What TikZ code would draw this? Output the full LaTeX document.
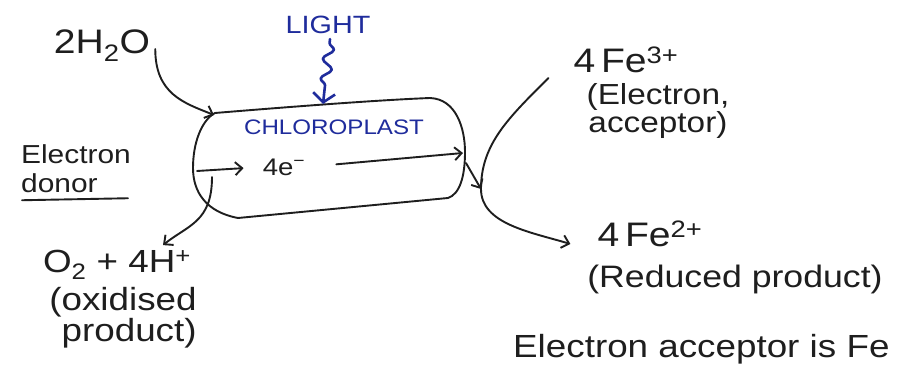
\documentclass[tikz,border=0pt]{standalone}
\usepackage{fontspec}
\setmainfont{Liberation Sans}[FakeStretch=1.15]
\usetikzlibrary{arrows.meta,decorations.pathmorphing}
\definecolor{ink}{HTML}{1E1E1E}
\definecolor{blueink}{HTML}{1F2C9C}
\tikzset{
  hand/.style={text=ink, inner sep=1pt},
  fs/.style={font=\fontsize{#1}{#1}\selectfont},
  pen/.style={draw=ink, line width=1.9pt, line cap=round, line join=round},
  arr/.style={pen, -{Straight Barb[length=7pt,width=13pt]}},
}
\begin{document}
\begin{tikzpicture}[x=1pt,y=-1pt]
\useasboundingbox[fill=white] (0,0) rectangle (898,371);

% labels
\node[hand,fs=34] (water) at (102,46) {2H\textsubscript{2}O};
\node[hand,fs=25,text=blueink] (light) at (328,25) {LIGHT};
\node[hand,fs=21,text=blueink] (chl) at (334,127) {CHLOROPLAST};
\node[hand,fs=24] (e4) at (284,167) {4e\textsuperscript{−}};
\node[hand,align=left,font=\fontsize{26}{29}\selectfont] (donor) at (76,169) {Electron\\donor};
\node[hand,fs=32] (o2) at (117,265) {O\textsubscript{2} + 4H\textsuperscript{+}};
\node[hand,align=right,font=\fontsize{32}{28}\selectfont] (oxp) at (123,318) {(oxidised\\product)};
\node[hand,fs=34] (fe3) at (626,60) {4\,Fe\textsuperscript{3+}};
\node[hand,align=center,font=\fontsize{29}{25}\selectfont] (acc) at (658,111) {(Electron,\\acceptor)};
\node[hand,fs=34] (fe2) at (650,234) {4\,Fe\textsuperscript{2+}};
\node[hand,fs=31] (red) at (735,279) {(Reduced product)};
\node[hand,fs=32,anchor=west] (note) at (512,349) {Electron acceptor is Fe};

% chloroplast outline
\draw[pen] (215,113) .. controls (300,106) and (380,100) .. (430,98)
  .. controls (456,99) and (465,128) .. (465,152)
  .. controls (465,176) and (460,194) .. (448,198)
  -- (238,218)
  .. controls (206,212) and (193,192) .. (193,168)
  .. controls (193,142) and (202,120) .. (215,113);

\coordinate (cTL) at (214,115);
\coordinate (cTop) at (323,104);
\coordinate (eL) at (197,171);
\coordinate (eR) at (463,153);
\coordinate (eOut) at (466,163);
\coordinate (bend) at (481,189);
\coordinate (dStart) at (212,177);

% connectors
\draw[arr] ([shift={(4,3)}]water.east) .. controls +(0,45) and +(-30,-12) .. (cTL);
\draw[pen, draw=blueink, line width=2.6pt,
      -{Straight Barb[length=9pt,width=22pt]}, decorate,
      decoration={snake, amplitude=5pt, segment length=20pt, pre length=4pt, post length=12pt}]
      ([shift={(2,4)}]light.south) -- (cTop);
\draw[arr, shorten >=18pt] (eL) -- (e4.west);
\draw[arr, shorten <=30pt] (e4.east) -- (eR);
\draw[arr] (eOut) -- (bend);
\draw[arr] (dStart) .. controls +(0,45) and +(25,-20) .. ([shift={(46,-4)}]o2.north);
\draw[arr] ([shift={(-24,18)}]fe3.west) .. controls +(-40,40) and +(0,-45) .. (bend)
  .. controls +(0,35) and +(-40,-12) .. ([shift={(-26,10)}]fe2.west);
\draw[pen] ([shift={(2,6)}]donor.south west) -- ([shift={(-4,4)}]donor.south east);
\end{tikzpicture}
\end{document}
